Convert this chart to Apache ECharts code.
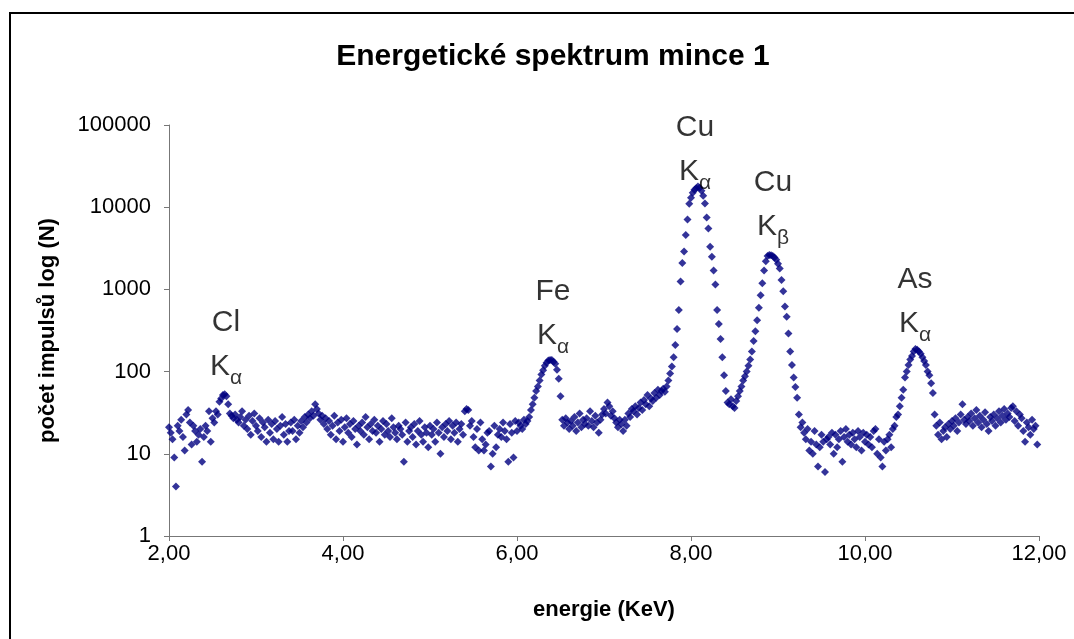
<!DOCTYPE html>
<html>
<head>
<meta charset="utf-8">
<script src="https://cdn.jsdelivr.net/npm/echarts@6/dist/echarts.min.js"></script>
<style>
  html, body { margin: 0; padding: 0; background: #fff; }
  #chart { width: 1074px; height: 639px; }
</style>
</head>
<body>
<div id="chart"></div>
<script>
// energy grid of the spectrum (keV)
var energyStart = 2.0;
var energyStep = 0.02;

// counts per channel, 10 channels per row (0.2 keV)
var counts = [
  21, 18, 15, 9, 4, 22, 19, 26, 16, 11,          // 2.00
  30, 34, 24, 13, 22, 19, 14, 17, 20, 8,         // 2.20
  16, 22, 19, 33, 14, 27, 24, 33, 30, 43,        // 2.40
  47, 52, 53, 50, 40, 31, 29, 27, 30, 26,        // 2.60
  24, 28, 33, 22, 26, 20, 29, 17, 25, 31,        // 2.80
  22, 19, 27, 16, 24, 21, 14, 26, 18, 23,        // 3.00
  15, 25, 20, 14, 22, 28, 17, 23, 14, 19,        // 3.20
  24, 19, 26, 15, 22, 18, 25, 21, 28, 24,        // 3.40
  30, 27, 33, 29, 40, 35, 31, 26, 29, 23,        // 3.60
  27, 20, 25, 17, 22, 29, 15, 24, 19, 26,        // 3.80
  14, 21, 27, 18, 23, 16, 25, 20, 13, 22,        // 4.00
  19, 24, 17, 28, 21, 15, 23, 19, 26, 18,        // 4.20
  22, 14, 20, 25, 17, 23, 19, 16, 27, 21,        // 4.40
  18, 15, 22, 20, 17, 8, 24, 14, 19, 21,         // 4.60
  16, 23, 13, 19, 25, 17, 14, 21, 18, 12,        // 4.80
  22, 17, 20, 14, 24, 18, 10, 21, 16, 23,        // 5.00
  19, 25, 15, 22, 18, 24, 14, 20, 23, 17,        // 5.20
  33, 35, 34, 22, 25, 16, 12, 20, 11, 24,        // 5.40
  15, 11, 13, 18, 19, 7, 10, 22, 12, 17,         // 5.60
  20, 16, 24, 19, 15, 8, 23, 18, 9, 25,          // 5.80
  19, 24, 22, 20, 26, 23, 25, 28, 34, 40,        // 6.00
  48, 58, 66, 78, 92, 104, 118, 128, 136, 138,   // 6.20
  138, 132, 125, 105, 82, 50, 26, 22, 27, 24,    // 6.40
  20, 25, 22, 28, 19, 24, 31, 21, 26, 23,        // 6.60
  27, 22, 33, 25, 21, 29, 24, 18, 26, 30,        // 6.80
  35, 31, 42, 38, 29, 33, 27, 24, 21, 26,        // 7.00
  23, 19, 26, 22, 31, 28, 35, 33, 38, 30,        // 7.20
  36, 42, 34, 45, 40, 52, 38, 47, 44, 55,        // 7.40
  48, 60, 52, 58, 62, 57, 66, 78, 95, 115,       // 7.60
  150, 210, 330, 560, 1250, 2100, 2900, 4600, 7100, 11000,      // 7.80
  13000, 15000, 16300, 17000, 17800, 17200, 15800, 13800, 11100, 7500, // 8.00
  5500, 3300, 2500, 1700, 1150, 560, 380, 250, 150, 90,         // 8.20
  58, 42, 40, 46, 38, 36, 44, 50, 58, 66,        // 8.40
  78, 88, 100, 118, 140, 175, 235, 310, 420, 600, // 8.60
  850, 1190, 1700, 2200, 2550, 2620, 2600, 2550, 2450, 2300,   // 8.80
  2050, 1800, 1300, 950, 620, 465, 290, 175, 120, 85,          // 9.00
  65, 48, 30, 21, 24, 18, 15, 20, 11, 14,        // 9.20
  10, 19, 13, 7, 12, 17, 14, 6, 15, 16,          // 9.40
  13, 18, 10, 17, 12, 15, 19, 8, 16, 20,         // 9.60
  14, 17, 13, 18, 15, 12, 19, 16, 11, 18,        // 9.80
  14, 17, 13, 16, 12, 19, 20, 10, 15, 9,         // 10.00
  7, 14, 11, 15, 17, 12, 20, 22, 28, 30,         // 10.20
  38, 48, 60, 85, 100, 120, 140, 155, 175, 188,  // 10.40
  185, 175, 165, 150, 135, 120, 100, 90, 72, 55, // 10.60
  30, 22, 17, 24, 15, 19, 21, 16, 23, 20,        // 10.80
  25, 22, 27, 19, 24, 30, 40, 26, 23, 28,        // 11.00
  25, 31, 22, 27, 34, 24, 29, 21, 26, 32,        // 11.20
  23, 19, 28, 25, 30, 22, 27, 33, 24, 29,        // 11.40
  35, 26, 31, 28, 36, 38, 25, 33, 22, 30,        // 11.60
  27, 19, 14, 24, 21, 17, 26, 20, 22, 13         // 11.80
];

// peak annotations (element, line, where the label sits)
var peakElements = ['Cl', 'Fe', 'Cu', 'Cu', 'As'];
var peakLines = ['α', 'α', 'α', 'β', 'α'];
var peakLabelE = [2.655, 6.414, 8.046, 8.943, 10.575];
var peakLabelN = [214, 509, 49600, 10640, 703];

var xTicks = [2, 4, 6, 8, 10, 12];

var spectrum = counts.map(function (c, i) {
  return [+(energyStart + i * energyStep).toFixed(2), c];
});
var peakData = peakElements.map(function (el, i) {
  return { value: [peakLabelE[i], peakLabelN[i]], el: el, line: peakLines[i] };
});

var font = '"Liberation Sans", Arial, sans-serif';
var chart = echarts.init(document.getElementById('chart'));

chart.setOption({
  animation: false,
  backgroundColor: '#fff',
  title: {
    text: 'Energetické spektrum mince 1',
    left: 548,
    top: 37,
    textAlign: 'center',
    textStyle: { fontFamily: font, fontSize: 30, fontWeight: 'bold', color: '#000' }
  },
  graphic: [{
    type: 'rect',
    shape: { x: 10, y: 13, width: 1100, height: 700 },
    style: { fill: 'none', stroke: '#000', lineWidth: 2 },
    silent: true
  }],
  grid: { left: 169, right: 35, top: 125, bottom: 103 },
  xAxis: {
    type: 'value',
    min: xTicks[0],
    max: xTicks[xTicks.length - 1],
    interval: 2,
    name: 'energie (KeV)',
    nameLocation: 'middle',
    nameGap: 63,
    nameTextStyle: { fontFamily: font, fontSize: 22, fontWeight: 'bold', color: '#000' },
    axisLine: { lineStyle: { color: '#777', width: 1 } },
    axisTick: { length: 5, lineStyle: { color: '#777' } },
    axisLabel: {
      fontFamily: font, fontSize: 22, color: '#000', margin: 7,
      formatter: function (v) { return v.toFixed(2).replace('.', ','); }
    },
    splitLine: { show: false }
  },
  yAxis: {
    type: 'log',
    logBase: 10,
    min: 1,
    max: 100000,
    name: 'počet impulsů log (N)',
    nameLocation: 'middle',
    nameGap: 110,
    nameTextStyle: { fontFamily: font, fontSize: 22, fontWeight: 'bold', color: '#000' },
    axisLine: { show: true, lineStyle: { color: '#777', width: 1 } },
    axisTick: { show: true, length: 5, lineStyle: { color: '#777' } },
    axisLabel: {
      fontFamily: font, fontSize: 22, color: '#000', margin: 18,
      formatter: function (v) { return String(v); }
    },
    splitLine: { show: false },
    minorTick: { show: false }
  },
  series: [{
    type: 'scatter',
    data: spectrum,
    symbol: 'diamond',
    symbolSize: 8,
    itemStyle: { color: '#000080' },
    silent: true
  }, {
    type: 'scatter',
    data: peakData,
    symbolSize: 0,
    silent: true,
    label: {
      show: true,
      position: 'inside',
      fontFamily: font,
      color: '#000',
      formatter: function (p) {
        return '{a|' + p.data.el + '}\n{a|K}{s|' + p.data.line + '}';
      },
      rich: {
        a: { fontFamily: font, fontSize: 30, lineHeight: 44, color: '#000' },
        s: { fontFamily: font, fontSize: 21, lineHeight: 34, verticalAlign: 'bottom', color: '#000' }
      }
    }
  }]
});
</script>
</body>
</html>
